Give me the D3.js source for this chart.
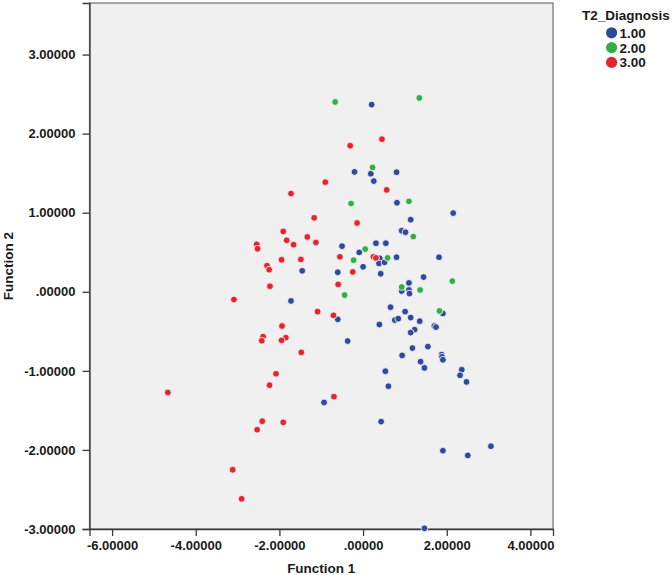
<!DOCTYPE html>
<html><head><meta charset="utf-8">
<script src="https://cdn.jsdelivr.net/npm/d3@7"></script>
<style>
html,body{margin:0;padding:0;background:#fff;}
text{font-family:"Liberation Sans",Arial,sans-serif;font-weight:bold;fill:#1a1a1a;}
</style></head>
<body><svg id="c" width="672" height="575"></svg>
<script>
const categories = ["1.00","2.00","3.00"];
const colors = ["#2f4a9c","#33ad45","#e3262c"];
const xTicks = [-6,-4,-2,0,2,4];
const yTicks = [-3,-2,-1,0,1,2,3];
const xTickLabels = ["-6.00000","-4.00000","-2.00000",".00000","2.00000","4.00000"];
const yTickLabels = ["-3.00000","-2.00000","-1.00000",".00000","1.00000","2.00000","3.00000"];

const group1 = [[0.205,2.367],[-0.205,1.516],[0.185,1.493],[0.8,1.512],[0.256,1.4],[0.81,1.126],[2.154,0.995],[1.138,0.912],[0.923,0.772],[1.015,0.753],[0.308,0.614],[0.544,0.614],[-0.503,0.577],[-0.092,0.498],[0.8,0.437],[1.815,0.437],[0.4,0.423],[0.379,0.358],[0.513,0.372],[0.0,0.316],[-1.456,0.265],[-0.605,0.247],[0.421,0.228],[1.446,0.186],[1.097,0.112],[0.923,0.009],[1.097,0.023],[1.108,-0.023],[-1.723,-0.116],[0.656,-0.195],[1.005,-0.251],[1.908,-0.274],[1.138,-0.326],[-0.605,-0.349],[0.759,-0.358],[0.841,-0.34],[1.354,-0.372],[0.39,-0.414],[1.703,-0.433],[1.744,-0.447],[1.231,-0.479],[1.138,-0.516],[-0.369,-0.623],[1.549,-0.693],[1.179,-0.712],[0.933,-0.805],[1.877,-0.795],[1.887,-0.823],[1.908,-0.86],[1.374,-0.884],[1.467,-0.963],[0.533,-1.005],[2.359,-0.986],[2.318,-1.056],[2.472,-1.14],[0.605,-1.195],[-0.933,-1.4],[0.431,-1.642],[1.908,-2.009],[2.503,-2.07],[3.056,-1.953],[1.467,-2.991]];
const group2 = [[-0.667,2.4],[1.344,2.451],[0.226,1.572],[-0.287,1.116],[1.097,1.144],[1.2,0.698],[0.051,0.54],[0.585,0.428],[-0.226,0.4],[-0.441,-0.042],[0.923,0.06],[1.364,0.023],[2.133,0.135],[1.826,-0.242]];
const group3 = [[0.451,1.93],[-0.308,1.847],[-0.903,1.386],[-1.723,1.242],[0.564,1.288],[-1.169,0.935],[-0.144,0.87],[-1.908,0.763],[-1.826,0.651],[-1.662,0.595],[-1.333,0.693],[-1.128,0.623],[-2.544,0.6],[-2.523,0.544],[-1.949,0.405],[-1.487,0.409],[-2.297,0.33],[-2.246,0.279],[-0.554,0.442],[0.246,0.442],[0.308,0.428],[-0.246,0.251],[-0.595,0.093],[-2.226,0.07],[-3.087,-0.098],[-1.087,-0.251],[-0.708,-0.298],[-1.938,-0.433],[-2.39,-0.567],[-2.421,-0.619],[-1.846,-0.581],[-1.949,-0.614],[-1.477,-0.767],[-2.082,-1.037],[-2.236,-1.181],[-4.667,-1.274],[-0.697,-1.326],[-2.41,-1.637],[-1.908,-1.651],[-2.533,-1.744],[-3.118,-2.251],[-2.903,-2.619]];
const groups = [group1, group2, group3];

const svg = d3.select("#c");
const L=89.5, R=553, T=3, B=529;
const x = d3.scaleLinear().domain([-6.54,4.54]).range([L,R]);
const y = d3.scaleLinear().domain([-3.0,3.652]).range([B,T]);

svg.append("rect").attr("x",L).attr("y",T).attr("width",R-L).attr("height",B-T)
  .attr("fill","#f0f0f0").attr("stroke","#707070").attr("stroke-width",1.2);

const xa = svg.append("g").attr("transform",`translate(0,${B})`)
  .call(d3.axisBottom(x).tickValues(xTicks).tickSize(7).tickPadding(5)
    .tickFormat((d,i)=>xTickLabels[i]));
const ya = svg.append("g").attr("transform",`translate(${L},0)`)
  .call(d3.axisLeft(y).tickValues(yTicks).tickSize(7).tickPadding(7)
    .tickFormat((d,i)=>yTickLabels[i]));
[xa,ya].forEach(a=>{
  a.select(".domain").attr("stroke","#3a3a3a").attr("stroke-width",1.3);
  a.selectAll(".tick line").attr("stroke","#3a3a3a").attr("stroke-width",1.3);
  a.selectAll(".tick text").style("font-size","13px").style("font-family","'Liberation Sans',Arial,sans-serif").style("font-weight","bold").attr("fill","#1a1a1a");
});

svg.append("text").attr("x",(L+R)/2).attr("y",573).attr("text-anchor","middle")
  .style("font-size","13.5px").text("Function 1");
svg.append("text").attr("transform",`translate(13,${(T+B)/2}) rotate(-90)`).attr("text-anchor","middle")
  .style("font-size","13.5px").text("Function 2");

const pts = svg.append("g");
groups.forEach((g,gi)=>{
  pts.selectAll(null).data(g).enter().append("circle")
    .attr("cx",d=>x(d[0])).attr("cy",d=>y(d[1])).attr("r",3.4)
    .attr("fill",colors[gi]).attr("stroke","#fff").attr("stroke-width",0.8);
});

const lg = svg.append("g");
lg.append("text").attr("x",582).attr("y",19.5).style("font-size","13.5px").text("T2_Diagnosis");
categories.forEach((c,i)=>{
  const cy = 32.8 + i*14.8;
  lg.append("circle").attr("cx",611.6).attr("cy",cy).attr("r",5.6).attr("fill",colors[i]);
  lg.append("text").attr("x",619.5).attr("y",cy+5).style("font-size","13.5px").text(c);
});
</script></body></html>
